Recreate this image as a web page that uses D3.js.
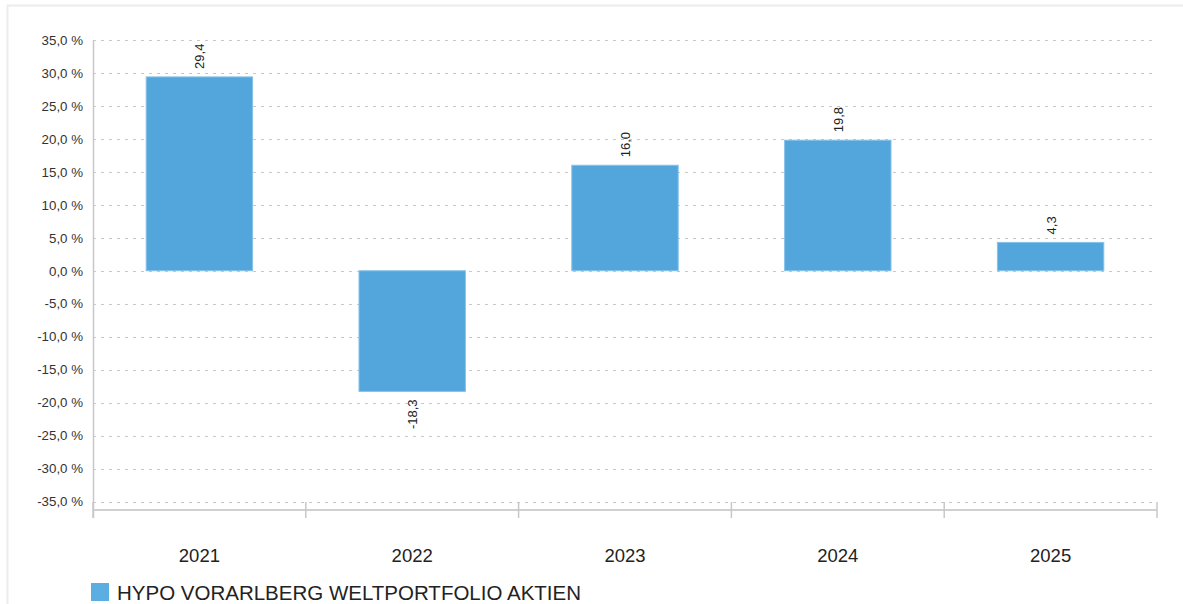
<!DOCTYPE html>
<html>
<head>
<meta charset="utf-8">
<script src="https://cdn.jsdelivr.net/npm/d3@7"></script>
<style>
  body { margin: 0; background: #fff; }
  svg { font-family: "Liberation Sans", Arial, sans-serif; }
</style>
</head>
<body>
<svg id="chart"></svg>
<script>
const years = ['2021', '2022', '2023', '2024', '2025'];
const returns = [29.4, -18.3, 16.0, 19.8, 4.3];
const yTicks = [35, 30, 25, 20, 15, 10, 5, 0, -5, -10, -15, -20, -25, -30, -35];
const seriesName = 'HYPO VORARLBERG WELTPORTFOLIO AKTIEN';

const width = 1183, height = 604;
const margin = { left: 93, right: 26, top: 40, bottom: 103 };
const fmt = v => v.toFixed(1).replace('.', ',');

const svg = d3.select('#chart')
    .attr('width', width)
    .attr('height', height);

// outer frame
svg.append('rect')
    .attr('x', 7.5).attr('y', 5.5)
    .attr('width', width).attr('height', height)
    .attr('fill', 'none')
    .attr('stroke', '#ececec')
    .attr('stroke-width', 2);

const x = d3.scaleBand()
    .domain(years)
    .range([margin.left, width - margin.right])
    .paddingInner(0.5)
    .paddingOuter(0.25);

const y = d3.scaleLinear()
    .domain([-35, 35])
    .range([height - margin.bottom + 0.5, margin.top]);

// grid
svg.append('g')
    .selectAll('line')
    .data(yTicks)
    .join('line')
    .attr('x1', margin.left)
    .attr('x2', width - margin.right - 4)
    .attr('y1', d => Math.round(y(d)) + 0.5)
    .attr('y2', d => Math.round(y(d)) + 0.5)
    .attr('stroke', '#c8c8c8')
    .attr('stroke-dasharray', '3,5');

// y axis
const yAxis = svg.append('g')
    .attr('transform', `translate(${margin.left},0)`)
    .call(d3.axisLeft(y).tickValues(yTicks).tickSize(0).tickPadding(10)
        .tickFormat(d => fmt(d) + ' %'));
yAxis.select('.domain').remove();
yAxis.selectAll('text')
    .attr('font-size', 13.3)
    .attr('fill', '#333')
    .attr('font-family', '"Liberation Sans", Arial, sans-serif');

svg.append('line')
    .attr('x1', margin.left + 0.5).attr('x2', margin.left + 0.5)
    .attr('y1', margin.top).attr('y2', 518)
    .attr('stroke', '#c8c8c8').attr('stroke-width', 1.5);

// x axis
const axisY = 510;
svg.append('line')
    .attr('x1', margin.left).attr('x2', width - margin.right)
    .attr('y1', axisY).attr('y2', axisY)
    .attr('stroke', '#d0d0d0').attr('stroke-width', 2);

const seps = d3.range(years.length + 1).map(i => margin.left + i * (width - margin.right - margin.left) / years.length);
svg.append('g')
    .selectAll('line')
    .data(seps)
    .join('line')
    .attr('x1', d => d).attr('x2', d => d)
    .attr('y1', 502).attr('y2', 518)
    .attr('stroke', '#c8c8c8').attr('stroke-width', 1.5);

svg.append('g')
    .selectAll('text')
    .data(years)
    .join('text')
    .attr('x', d => x(d) + x.bandwidth() / 2)
    .attr('y', 562)
    .attr('text-anchor', 'middle')
    .attr('font-size', 18.5)
    .attr('fill', '#222')
    .text(d => d);

// bars
const data = years.map((yr, i) => ({ year: yr, value: returns[i] }));
svg.append('g')
    .selectAll('rect')
    .data(data)
    .join('rect')
    .attr('x', d => x(d.year))
    .attr('width', x.bandwidth())
    .attr('y', d => y(Math.max(0, d.value)))
    .attr('height', d => Math.abs(y(d.value) - y(0)))
    .attr('fill', '#52a6dc')
    .attr('stroke', '#86c1e8')
    .attr('stroke-width', 1);

// value labels
svg.append('g')
    .selectAll('text')
    .data(data)
    .join('text')
    .attr('transform', d => {
        const cx = x(d.year) + x.bandwidth() / 2 + 5;
        const cy = d.value >= 0 ? y(d.value) - 8 : y(d.value) + 8;
        return `translate(${cx},${cy}) rotate(-90)`;
    })
    .attr('text-anchor', d => d.value >= 0 ? 'start' : 'end')
    .attr('font-size', 13)
    .attr('fill', '#222')
    .text(d => fmt(d.value));

// legend
const legend = svg.append('g').attr('transform', 'translate(91,583)');
legend.append('rect')
    .attr('width', 18).attr('height', 18)
    .attr('fill', '#5aaee2');
legend.append('text')
    .attr('x', 26).attr('y', 17)
    .attr('font-size', 20.5)
    .attr('fill', '#222')
    .text(seriesName);
</script>
</body>
</html>
